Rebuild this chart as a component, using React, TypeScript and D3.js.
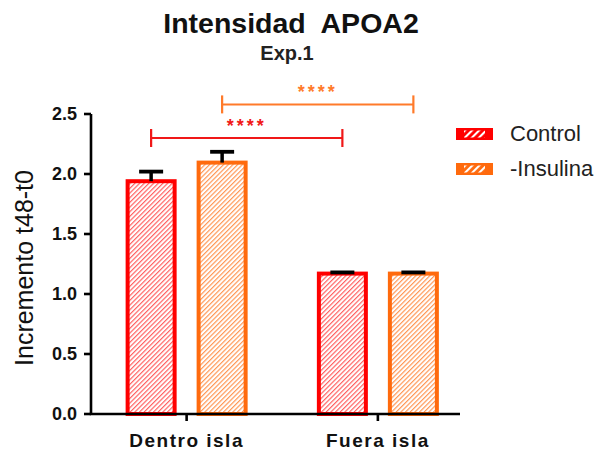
import React from "react";
import * as d3 from "d3";

const categories = ["Dentro isla", "Fuera isla"];
const seriesNames = ["Control", "-Insulina"];
const controlValues = [1.94, 1.17];
const controlErrors = [0.08, 0.01];
const insulinaValues = [2.095, 1.17];
const insulinaErrors = [0.09, 0.01];
const yTicks = [0.0, 0.5, 1.0, 1.5, 2.0, 2.5];
const seriesColors = ["#ff0000", "#ff6a0d"];
const hatchColors = ["#ff5c5c", "#ff9450"];
const sigLevels = [2.3, 2.58];
const sigLabel = "****";

const FONT = "'Liberation Sans', Arial, Helvetica, sans-serif";

export default function App() {
  const W = 600;
  const H = 451;
  const y = d3.scaleLinear().domain([0, 2.5]).range([414, 114]);
  const x0 = d3.scaleBand().domain(categories).range([91, 473.5]).paddingInner(0).paddingOuter(0);
  const x1 = d3.scaleBand().domain(seriesNames).range([-71, 71]).paddingInner(0.338).paddingOuter(0.169);
  const values = [controlValues, insulinaValues];
  const errors = [controlErrors, insulinaErrors];
  const cx = (c: string) => (x0(c) as number) + x0.bandwidth() / 2;
  const barCenter = (c: string, s: string) => cx(c) + (x1(s) as number) + x1.bandwidth() / 2;

  const bars: any[] = [];
  seriesNames.forEach((s, si) => {
    categories.forEach((c, ci) => {
      bars.push({ s, si, c, ci, v: values[si][ci], e: errors[si][ci] });
    });
  });

  const axisX0 = 91;
  const axisX1 = 460;
  const base = y(0);

  return (
    <svg width={W} height={H} style={{ position: "absolute", left: 0, top: 0, background: "#fff" }}>
      <defs>
        {seriesNames.map((s, i) => (
          <pattern key={s} id={`hatch${i}`} patternUnits="userSpaceOnUse" width={3.3} height={3.3} patternTransform="rotate(45)">
            <rect width={3.3} height={3.3} fill="#fff" />
            <line x1={0.6} y1={0} x2={0.6} y2={3.3} stroke={hatchColors[i]} strokeWidth={1.15} />
          </pattern>
        ))}
        <pattern id="whiteStripes" patternUnits="userSpaceOnUse" width={5} height={5} patternTransform="rotate(45)">
          <line x1={1} y1={0} x2={1} y2={5} stroke="#fff" strokeWidth={2.2} />
        </pattern>
      </defs>

      {/* Title */}
      <text x={291} y={33} textAnchor="middle" fontFamily={FONT} fontWeight="bold" fontSize={28.5} fill="#111" style={{ whiteSpace: "pre" }}>
        {"Intensidad  APOA2"}
      </text>
      <text x={287} y={60} textAnchor="middle" fontFamily={FONT} fontWeight="bold" fontSize={20} fill="#222">
        Exp.1
      </text>

      {/* Bars */}
      {bars.map((b) => {
        const bx = barCenter(b.c, b.s) - x1.bandwidth() / 2;
        const top = y(b.v);
        return (
          <g key={`${b.s}-${b.c}`}>
            <rect x={bx} y={top} width={x1.bandwidth()} height={base - top} fill={`url(#hatch${b.si})`} stroke={seriesColors[b.si]} strokeWidth={4} />
          </g>
        );
      })}

      {/* Error bars */}
      {bars.map((b) => {
        const c = barCenter(b.c, b.s);
        const top = y(b.v + b.e);
        return (
          <g key={`e-${b.s}-${b.c}`} stroke="#000">
            <line x1={c} x2={c} y1={y(b.v)} y2={top} strokeWidth={3.5} />
            <line x1={c - 12} x2={c + 12} y1={top} y2={top} strokeWidth={3.8} />
          </g>
        );
      })}

      {/* Y axis */}
      <line x1={axisX0} x2={axisX0} y1={y(2.5)} y2={base} stroke="#000" strokeWidth={2.6} />
      {yTicks.map((t) => (
        <g key={t}>
          <line x1={axisX0 - 7} x2={axisX0} y1={y(t)} y2={y(t)} stroke="#000" strokeWidth={2.6} />
          <text x={77} y={y(t)} dy="0.36em" textAnchor="end" fontFamily={FONT} fontWeight="bold" fontSize={18} fill="#111">
            {d3.format(".1f")(t)}
          </text>
        </g>
      ))}

      {/* X axis */}
      <line x1={axisX0 - 1.3} x2={axisX1} y1={base} y2={base} stroke="#000" strokeWidth={2.6} />
      {categories.map((c) => (
        <g key={c}>
          <line x1={cx(c)} x2={cx(c)} y1={base} y2={base + 7} stroke="#000" strokeWidth={2.6} />
          <text x={cx(c)} y={447} textAnchor="middle" fontFamily={FONT} fontWeight="bold" fontSize={19} letterSpacing={1.5} fill="#111">
            {c}
          </text>
        </g>
      ))}

      {/* Y label */}
      <text transform={`translate(33,268) rotate(-90)`} textAnchor="middle" fontFamily={FONT} fontSize={25} fill="#111">
        Incremento t48-t0
      </text>

      {/* Significance */}
      {seriesNames.map((s, i) => {
        const xa = barCenter(categories[0], s);
        const xb = barCenter(categories[1], s);
        const ly = y(sigLevels[i]);
        const col = i === 0 ? "#f01818" : "#ff7a2a";
        return (
          <g key={`sig-${s}`} stroke={col}>
            <line x1={xa} x2={xb} y1={ly} y2={ly} strokeWidth={2} />
            <line x1={xa} x2={xa} y1={ly - 9} y2={ly + 9} strokeWidth={2.2} />
            <line x1={xb} x2={xb} y1={ly - 9} y2={ly + 9} strokeWidth={2.2} />
            <text x={(xa + xb) / 2} y={ly - 6} textAnchor="middle" fontFamily={FONT} fontWeight="bold" fontSize={18} letterSpacing={3} stroke="none" fill={col}>
              {sigLabel}
            </text>
          </g>
        );
      })}

      {/* Legend */}
      {seriesNames.map((s, i) => {
        const ly = 128 + i * 35;
        return (
          <g key={`leg-${s}`}>
            <rect x={456} y={ly} width={37} height={12} fill={seriesColors[i]} />
            <rect x={464} y={ly + 2.5} width={21} height={7} fill="url(#whiteStripes)" />
            <text x={510} y={ly + 13} fontFamily={FONT} fontSize={22} fill="#222">
              {s}
            </text>
          </g>
        );
      })}
    </svg>
  );
}
